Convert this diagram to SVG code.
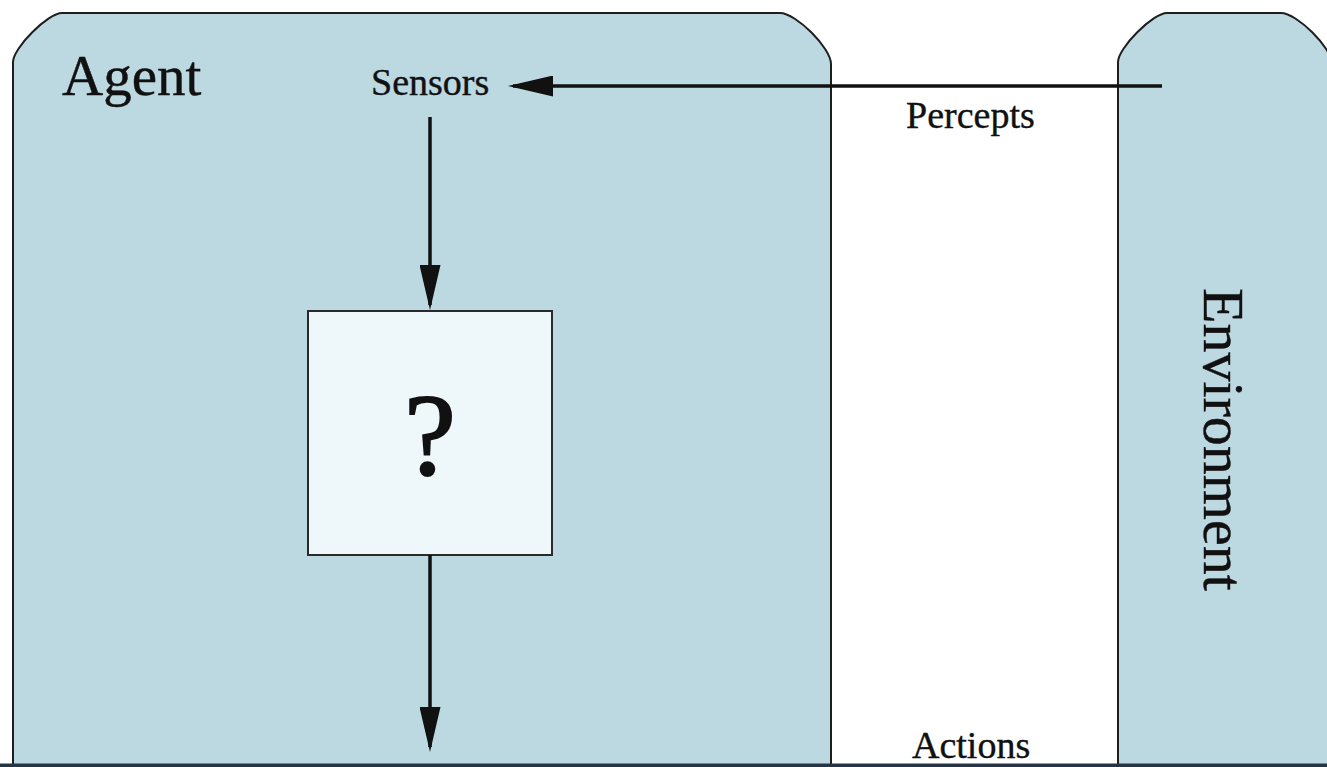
<svg xmlns="http://www.w3.org/2000/svg" width="1327" height="767" viewBox="0 0 1327 767">
<style>
.panel{fill:#bcd8e0;stroke:#1e1e1e;stroke-width:2}
.box{fill:#eef7fa;stroke:#2a2a2a;stroke-width:2}
.lbl{font-family:"Liberation Serif","Times New Roman",serif;fill:#111;stroke:#111;stroke-width:0.4}
.conn{stroke:#111;stroke-width:3.5;fill:none}
</style>
<defs>
<marker id="ah" viewBox="0 0 45 21" refX="40" refY="10.5" markerWidth="45" markerHeight="21" markerUnits="userSpaceOnUse" orient="auto">
<path d="M0,0 L45,10.5 L0,21 z" fill="#111"/>
</marker>
</defs>
<rect width="1327" height="767" fill="#ffffff"/>
<g id="agent">
<path class="panel" d="M13,800 L13,62 C13,48 48,13 62,13 L780,13 C796,13 831,48 831,64 L831,800"/>
<text class="lbl" x="62" y="95" font-size="57">Agent</text>
</g>
<g id="environment">
<path class="panel" d="M1118,800 L1118,62 C1118,48 1153,13 1167,13 L1281,13 C1297,13 1332,48 1332,64 L1332,800"/>
<text class="lbl" font-size="58" transform="translate(1204,288) rotate(90)">Environment</text>
</g>
<g id="sensors">
<text class="lbl" x="371" y="95" font-size="38">Sensors</text>
</g>
<g id="agent-function">
<rect class="box" x="308" y="311" width="244" height="244"/>
<text class="lbl" x="430" y="474" font-size="116" text-anchor="middle" style="stroke-width:2">?</text>
</g>
<g id="connectors">
<line class="conn" x1="1162" y1="86" x2="513" y2="86" marker-end="url(#ah)"/>
<line class="conn" x1="430" y1="117" x2="430" y2="305" marker-end="url(#ah)"/>
<line class="conn" x1="430" y1="555" x2="430" y2="747" marker-end="url(#ah)"/>
<text class="lbl" x="906" y="128" font-size="38">Percepts</text>
<text class="lbl" x="912" y="758" font-size="38">Actions</text>
</g>
<rect x="0" y="763.5" width="1327" height="3.5" fill="#253545"/>
</svg>
